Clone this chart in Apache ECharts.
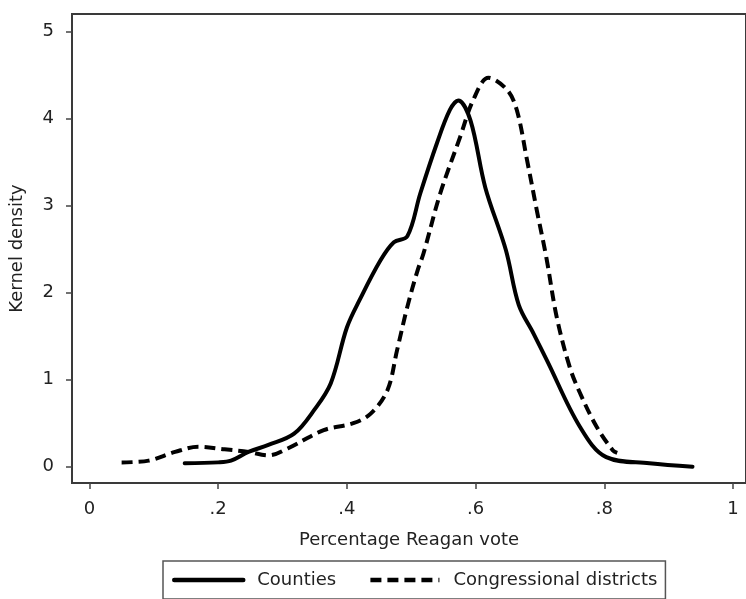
<!DOCTYPE html>
<html>
<head>
<meta charset="utf-8">
<script src="https://cdn.jsdelivr.net/npm/echarts@6/dist/echarts.min.js"></script>
<style>
html,body{margin:0;padding:0;background:#fff;}
#chart{width:746px;height:599px;}
</style>
</head>
<body>
<div id="chart"></div>
<script>
// Counties kernel density (x = share of Reagan vote, y = density)
const countiesX = [0.148,0.20,0.22,0.247,0.278,0.318,0.349,0.375,0.40,0.42,0.452,0.473,0.494,0.514,0.54,0.56,0.573,0.592,0.615,0.647,0.667,0.69,0.711,0.762,0.803,0.87,0.937];
const countiesY = [0.04,0.05,0.07,0.17,0.25,0.38,0.65,0.96,1.6,1.92,2.37,2.58,2.65,3.14,3.72,4.1,4.21,3.98,3.21,2.49,1.86,1.53,1.22,0.46,0.11,0.04,0.0];
// Congressional districts kernel density
const districtsX = [0.05,0.092,0.133,0.169,0.21,0.247,0.278,0.308,0.364,0.41,0.437,0.463,0.478,0.494,0.51,0.519,0.545,0.576,0.596,0.62,0.649,0.664,0.68,0.695,0.71,0.726,0.746,0.762,0.788,0.813,0.82];
const districtsY = [0.05,0.07,0.17,0.23,0.2,0.17,0.13,0.21,0.42,0.5,0.61,0.88,1.34,1.84,2.26,2.45,3.14,3.79,4.21,4.47,4.33,4.1,3.52,2.95,2.4,1.72,1.15,0.85,0.46,0.19,0.16];
// Tick values and labels
const xTicks = [0,0.2,0.4,0.6,0.8,1];
const xTickLabels = ['0','.2','.4','.6','.8','1'];
const yTicks = [0,1,2,3,4,5];
const yTickLabels = ['0','1','2','3','4','5'];
const seriesNames = ['Counties','Congressional districts'];
const xTitle = 'Percentage Reagan vote';
const yTitle = 'Kernel density';

const zip = (xs, ys) => xs.map((x, i) => [x, ys[i]]);
const font = 'DejaVu Sans';
const textColor = '#222';

const chart = echarts.init(document.getElementById('chart'), null, {renderer: 'canvas'});
chart.setOption({
  animation: false,
  backgroundColor: '#fff',
  grid: {
    left: 70, top: 14, width: 676, height: 469,
    show: true, borderColor: '#3a3a3a', borderWidth: 2, backgroundColor: '#fff'
  },
  xAxis: {
    type: 'value', min: -0.0271, max: 1.0201,
    name: xTitle, nameLocation: 'middle', nameGap: 48,
    nameTextStyle: {fontFamily: font, fontSize: 18, color: textColor},
    axisLine: {show: false, onZero: false},
    splitLine: {show: false},
    axisTick: {show: true, inside: false, length: 6, customValues: xTicks, lineStyle: {color: '#444', width: 1.5}},
    axisLabel: {
      customValues: xTicks, margin: 17, fontFamily: font, fontSize: 18, color: textColor,
      formatter: v => xTickLabels[xTicks.findIndex(t => Math.abs(t - v) < 1e-9)] || ''
    }
  },
  yAxis: {
    type: 'value', min: -0.187, max: 5.203,
    name: yTitle, nameLocation: 'middle', nameGap: 46, nameRotate: 90,
    nameTextStyle: {fontFamily: font, fontSize: 18, color: textColor},
    axisLine: {show: false, onZero: false},
    splitLine: {show: false},
    axisTick: {show: true, inside: false, length: 6, customValues: yTicks, lineStyle: {color: '#444', width: 1.5}},
    axisLabel: {
      customValues: yTicks, margin: 18, fontFamily: font, fontSize: 18, color: textColor,
      formatter: v => yTickLabels[yTicks.findIndex(t => Math.abs(t - v) < 1e-9)] || ''
    }
  },
  legend: {
    show: true,
    left: 163, top: 561,
    orient: 'horizontal',
    borderColor: '#555', borderWidth: 1.5,
    padding: [10, 8, 10, 9],
    itemWidth: 69, itemHeight: 16, itemGap: 32,
    itemStyle: {opacity: 0},
    lineStyle: {width: 4.5},
    formatter: name => '\u2002' + name,
    textStyle: {fontFamily: font, fontSize: 18, color: textColor},
    data: seriesNames
  },
  series: [
    {
      name: seriesNames[0], type: 'line', data: zip(countiesX, countiesY),
      smooth: 0.35, symbol: 'none', showSymbol: false,
      lineStyle: {color: '#000', width: 4, type: 'solid', cap: 'round', join: 'round'},
      itemStyle: {color: '#000'}
    },
    {
      name: seriesNames[1], type: 'line', data: zip(districtsX, districtsY),
      smooth: 0.35, symbol: 'none', showSymbol: false,
      lineStyle: {color: '#000', width: 4, type: [11, 6], cap: 'butt', join: 'round'},
      itemStyle: {color: '#000'}
    }
  ]
});
</script>
</body>
</html>
